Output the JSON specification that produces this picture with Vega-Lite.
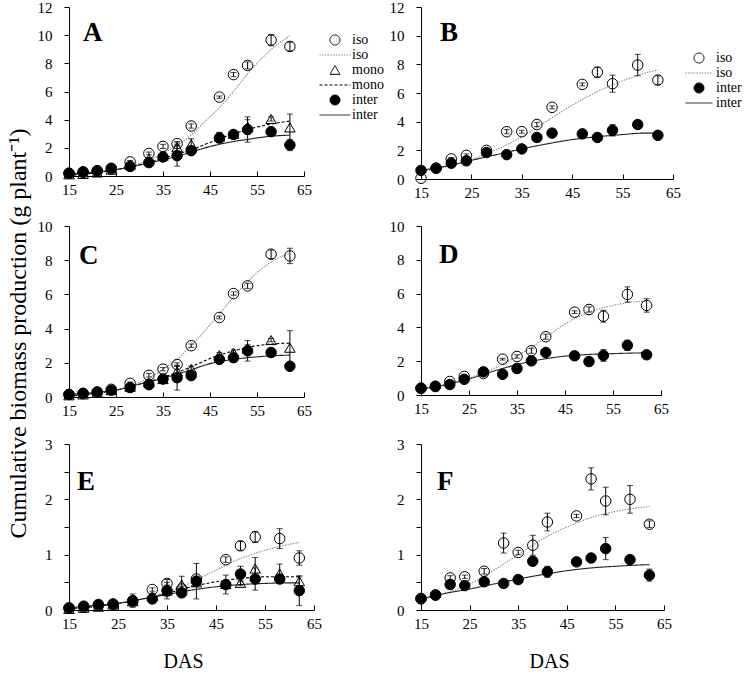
{
  "$schema": "https://vega.github.io/schema/vega-lite/v6.json",
  "background": "white",
  "padding": {"left": 5, "top": 0, "right": 60, "bottom": 0},
  "bounds": "flush",
  "columns": 2,
  "align": "each",
  "spacing": {"row": 47, "column": 107},
  "resolve": {
    "scale": {"shape": "independent", "fill": "independent", "stroke": "independent", "strokeDash": "independent"},
    "legend": {"shape": "independent", "fill": "independent", "stroke": "independent", "strokeDash": "independent"}
  },
  "config": {
    "view": {"stroke": null},
    "font": "Liberation Serif",
    "axis": {"labelFont": "Liberation Serif", "labelFontSize": 15, "labelColor": "black", "domainColor": "black", "tickColor": "black", "domainWidth": 1, "tickWidth": 1, "grid": false, "titleFont": "Liberation Serif", "titleFontWeight": "normal", "titleColor": "black", "labelFlush": false, "labelOverlap": false},
    "axisX": {"tickSize": -5, "labelPadding": 11},
    "axisY": {"tickSize": 5, "labelPadding": 12},
    "legend": {"labelFont": "Liberation Serif", "labelFontSize": 14, "labelColor": "black", "symbolSize": 100, "rowPadding": 1, "labelOffset": 10, "symbolStrokeWidth": 1, "symbolFillColor": "transparent"},
    "title": {"font": "Liberation Serif", "fontSize": 27, "fontWeight": "bold", "color": "black", "anchor": "start", "frame": "group", "offset": 0, "baseline": "alphabetic"}
  },
  "datasets": {
    "obs": [
      {"panel":"A","das":15,"series":"iso_obs","value":0.19,"se":0},{"panel":"A","das":18,"series":"iso_obs","value":0.25,"se":0},{"panel":"A","das":21,"series":"iso_obs","value":0.35,"se":0},{"panel":"A","das":24,"series":"iso_obs","value":0.5,"se":0},{"panel":"A","das":28,"series":"iso_obs","value":1.0,"se":0.1},{"panel":"A","das":32,"series":"iso_obs","value":1.6,"se":0.1},{"panel":"A","das":35,"series":"iso_obs","value":2.1,"se":0.15},{"panel":"A","das":38,"series":"iso_obs","value":2.3,"se":0.15},{"panel":"A","das":41,"series":"iso_obs","value":3.55,"se":0.15},{"panel":"A","das":47,"series":"iso_obs","value":5.6,"se":0.08},{"panel":"A","das":50,"series":"iso_obs","value":7.2,"se":0.15},{"panel":"A","das":53,"series":"iso_obs","value":7.85,"se":0.25},{"panel":"A","das":58,"series":"iso_obs","value":9.65,"se":0.4},{"panel":"A","das":62,"series":"iso_obs","value":9.2,"se":0.3},
      {"panel":"A","das":15,"series":"mono_obs","value":0.12,"se":0},{"panel":"A","das":18,"series":"mono_obs","value":0.15,"se":0},{"panel":"A","das":21,"series":"mono_obs","value":0.25,"se":0},{"panel":"A","das":24,"series":"mono_obs","value":0.45,"se":0},{"panel":"A","das":28,"series":"mono_obs","value":0.8,"se":0.1},{"panel":"A","das":32,"series":"mono_obs","value":1.2,"se":0.1},{"panel":"A","das":35,"series":"mono_obs","value":1.45,"se":0.1},{"panel":"A","das":38,"series":"mono_obs","value":2.05,"se":0.3},{"panel":"A","das":41,"series":"mono_obs","value":2.25,"se":0.4},{"panel":"A","das":47,"series":"mono_obs","value":2.8,"se":0.3},{"panel":"A","das":50,"series":"mono_obs","value":3.0,"se":0.25},{"panel":"A","das":53,"series":"mono_obs","value":3.5,"se":0.5},{"panel":"A","das":58,"series":"mono_obs","value":4.05,"se":0.15},{"panel":"A","das":62,"series":"mono_obs","value":3.45,"se":0.95},
      {"panel":"A","das":15,"series":"inter_obs","value":0.2,"se":0},{"panel":"A","das":18,"series":"inter_obs","value":0.3,"se":0.05},{"panel":"A","das":21,"series":"inter_obs","value":0.38,"se":0.05},{"panel":"A","das":24,"series":"inter_obs","value":0.55,"se":0.05},{"panel":"A","das":28,"series":"inter_obs","value":0.68,"se":0.1},{"panel":"A","das":32,"series":"inter_obs","value":0.95,"se":0.1},{"panel":"A","das":35,"series":"inter_obs","value":1.35,"se":0.1},{"panel":"A","das":38,"series":"inter_obs","value":1.45,"se":0.75},{"panel":"A","das":41,"series":"inter_obs","value":1.8,"se":0.1},{"panel":"A","das":47,"series":"inter_obs","value":2.7,"se":0.35},{"panel":"A","das":50,"series":"inter_obs","value":2.95,"se":0.2},{"panel":"A","das":53,"series":"inter_obs","value":3.3,"se":0.9},{"panel":"A","das":58,"series":"inter_obs","value":3.15,"se":0.1},{"panel":"A","das":62,"series":"inter_obs","value":2.2,"se":0.4},
      {"panel":"B","das":15,"series":"iso_obs","value":0.05,"se":0},{"panel":"B","das":18,"series":"iso_obs","value":0.75,"se":0},{"panel":"B","das":21,"series":"iso_obs","value":1.4,"se":0.1},{"panel":"B","das":24,"series":"iso_obs","value":1.65,"se":0.1},{"panel":"B","das":28,"series":"iso_obs","value":2.0,"se":0.1},{"panel":"B","das":32,"series":"iso_obs","value":3.3,"se":0.15},{"panel":"B","das":35,"series":"iso_obs","value":3.3,"se":0.1},{"panel":"B","das":38,"series":"iso_obs","value":3.8,"se":0.15},{"panel":"B","das":41,"series":"iso_obs","value":5.0,"se":0.1},{"panel":"B","das":47,"series":"iso_obs","value":6.6,"se":0.1},{"panel":"B","das":50,"series":"iso_obs","value":7.45,"se":0.35},{"panel":"B","das":53,"series":"iso_obs","value":6.65,"se":0.6},{"panel":"B","das":58,"series":"iso_obs","value":7.95,"se":0.75},{"panel":"B","das":62,"series":"iso_obs","value":6.9,"se":0.3},
      {"panel":"B","das":15,"series":"inter_obs","value":0.6,"se":0},{"panel":"B","das":18,"series":"inter_obs","value":0.76,"se":0},{"panel":"B","das":21,"series":"inter_obs","value":1.1,"se":0.1},{"panel":"B","das":24,"series":"inter_obs","value":1.27,"se":0.1},{"panel":"B","das":28,"series":"inter_obs","value":1.85,"se":0.1},{"panel":"B","das":32,"series":"inter_obs","value":1.7,"se":0.05},{"panel":"B","das":35,"series":"inter_obs","value":2.1,"se":0.05},{"panel":"B","das":38,"series":"inter_obs","value":2.9,"se":0.05},{"panel":"B","das":41,"series":"inter_obs","value":3.2,"se":0.05},{"panel":"B","das":47,"series":"inter_obs","value":3.15,"se":0.1},{"panel":"B","das":50,"series":"inter_obs","value":2.9,"se":0.1},{"panel":"B","das":53,"series":"inter_obs","value":3.4,"se":0.4},{"panel":"B","das":58,"series":"inter_obs","value":3.8,"se":0.2},{"panel":"B","das":62,"series":"inter_obs","value":3.05,"se":0.05},
      {"panel":"C","das":15,"series":"iso_obs","value":0.15,"se":0},{"panel":"C","das":18,"series":"iso_obs","value":0.2,"se":0},{"panel":"C","das":21,"series":"iso_obs","value":0.3,"se":0},{"panel":"C","das":24,"series":"iso_obs","value":0.45,"se":0},{"panel":"C","das":28,"series":"iso_obs","value":0.8,"se":0.08},{"panel":"C","das":32,"series":"iso_obs","value":1.27,"se":0.1},{"panel":"C","das":35,"series":"iso_obs","value":1.63,"se":0.1},{"panel":"C","das":38,"series":"iso_obs","value":1.9,"se":0.1},{"panel":"C","das":41,"series":"iso_obs","value":3.0,"se":0.1},{"panel":"C","das":47,"series":"iso_obs","value":4.65,"se":0.08},{"panel":"C","das":50,"series":"iso_obs","value":6.05,"se":0.1},{"panel":"C","das":53,"series":"iso_obs","value":6.5,"se":0.15},{"panel":"C","das":58,"series":"iso_obs","value":8.35,"se":0.25},{"panel":"C","das":62,"series":"iso_obs","value":8.25,"se":0.45},
      {"panel":"C","das":15,"series":"mono_obs","value":0.1,"se":0},{"panel":"C","das":18,"series":"mono_obs","value":0.15,"se":0},{"panel":"C","das":21,"series":"mono_obs","value":0.25,"se":0},{"panel":"C","das":24,"series":"mono_obs","value":0.4,"se":0},{"panel":"C","das":28,"series":"mono_obs","value":0.6,"se":0.05},{"panel":"C","das":32,"series":"mono_obs","value":0.85,"se":0.1},{"panel":"C","das":35,"series":"mono_obs","value":1.05,"se":0.1},{"panel":"C","das":38,"series":"mono_obs","value":1.5,"se":0.3},{"panel":"C","das":41,"series":"mono_obs","value":1.65,"se":0.15},{"panel":"C","das":47,"series":"mono_obs","value":2.45,"se":0.15},{"panel":"C","das":50,"series":"mono_obs","value":2.6,"se":0.15},{"panel":"C","das":53,"series":"mono_obs","value":2.85,"se":0.2},{"panel":"C","das":58,"series":"mono_obs","value":3.33,"se":0.1},{"panel":"C","das":62,"series":"mono_obs","value":2.88,"se":1.0},
      {"panel":"C","das":15,"series":"inter_obs","value":0.15,"se":0},{"panel":"C","das":18,"series":"inter_obs","value":0.22,"se":0},{"panel":"C","das":21,"series":"inter_obs","value":0.27,"se":0},{"panel":"C","das":24,"series":"inter_obs","value":0.4,"se":0},{"panel":"C","das":28,"series":"inter_obs","value":0.55,"se":0.05},{"panel":"C","das":32,"series":"inter_obs","value":0.72,"se":0.05},{"panel":"C","das":35,"series":"inter_obs","value":1.05,"se":0.05},{"panel":"C","das":38,"series":"inter_obs","value":1.13,"se":0.73},{"panel":"C","das":41,"series":"inter_obs","value":1.25,"se":0.1},{"panel":"C","das":47,"series":"inter_obs","value":2.2,"se":0.2},{"panel":"C","das":50,"series":"inter_obs","value":2.3,"se":0.25},{"panel":"C","das":53,"series":"inter_obs","value":2.7,"se":0.6},{"panel":"C","das":58,"series":"inter_obs","value":2.6,"se":0.05},{"panel":"C","das":62,"series":"inter_obs","value":1.8,"se":0.05},
      {"panel":"D","das":15,"series":"iso_obs","value":0.4,"se":0},{"panel":"D","das":18,"series":"iso_obs","value":0.5,"se":0},{"panel":"D","das":21,"series":"iso_obs","value":0.8,"se":0},{"panel":"D","das":24,"series":"iso_obs","value":1.1,"se":0},{"panel":"D","das":28,"series":"iso_obs","value":1.27,"se":0.05},{"panel":"D","das":32,"series":"iso_obs","value":2.12,"se":0.05},{"panel":"D","das":35,"series":"iso_obs","value":2.28,"se":0.1},{"panel":"D","das":38,"series":"iso_obs","value":2.62,"se":0.15},{"panel":"D","das":41,"series":"iso_obs","value":3.45,"se":0.15},{"panel":"D","das":47,"series":"iso_obs","value":4.9,"se":0.08},{"panel":"D","das":50,"series":"iso_obs","value":5.06,"se":0.15},{"panel":"D","das":53,"series":"iso_obs","value":4.66,"se":0.35},{"panel":"D","das":58,"series":"iso_obs","value":5.95,"se":0.45},{"panel":"D","das":62,"series":"iso_obs","value":5.3,"se":0.4},
      {"panel":"D","das":15,"series":"inter_obs","value":0.4,"se":0},{"panel":"D","das":18,"series":"inter_obs","value":0.52,"se":0},{"panel":"D","das":21,"series":"inter_obs","value":0.62,"se":0},{"panel":"D","das":24,"series":"inter_obs","value":0.93,"se":0.05},{"panel":"D","das":28,"series":"inter_obs","value":1.37,"se":0.05},{"panel":"D","das":32,"series":"inter_obs","value":1.23,"se":0.05},{"panel":"D","das":35,"series":"inter_obs","value":1.57,"se":0.05},{"panel":"D","das":38,"series":"inter_obs","value":2.02,"se":0.05},{"panel":"D","das":41,"series":"inter_obs","value":2.52,"se":0.05},{"panel":"D","das":47,"series":"inter_obs","value":2.32,"se":0.05},{"panel":"D","das":50,"series":"inter_obs","value":1.98,"se":0.05},{"panel":"D","das":53,"series":"inter_obs","value":2.34,"se":0.35},{"panel":"D","das":58,"series":"inter_obs","value":2.94,"se":0.3},{"panel":"D","das":62,"series":"inter_obs","value":2.38,"se":0.05},
      {"panel":"E","das":15,"series":"iso_obs","value":0.03,"se":0},{"panel":"E","das":18,"series":"iso_obs","value":0.05,"se":0},{"panel":"E","das":21,"series":"iso_obs","value":0.08,"se":0},{"panel":"E","das":24,"series":"iso_obs","value":0.1,"se":0},{"panel":"E","das":28,"series":"iso_obs","value":0.15,"se":0},{"panel":"E","das":32,"series":"iso_obs","value":0.37,"se":0.03},{"panel":"E","das":35,"series":"iso_obs","value":0.48,"se":0.07},{"panel":"E","das":38,"series":"iso_obs","value":0.38,"se":0.05},{"panel":"E","das":41,"series":"iso_obs","value":0.56,"se":0.05},{"panel":"E","das":47,"series":"iso_obs","value":0.91,"se":0.05},{"panel":"E","das":50,"series":"iso_obs","value":1.16,"se":0.08},{"panel":"E","das":53,"series":"iso_obs","value":1.32,"se":0.1},{"panel":"E","das":58,"series":"iso_obs","value":1.29,"se":0.18},{"panel":"E","das":62,"series":"iso_obs","value":0.94,"se":0.13},
      {"panel":"E","das":15,"series":"mono_obs","value":0.02,"se":0},{"panel":"E","das":18,"series":"mono_obs","value":0.04,"se":0},{"panel":"E","das":21,"series":"mono_obs","value":0.06,"se":0},{"panel":"E","das":24,"series":"mono_obs","value":0.1,"se":0},{"panel":"E","das":28,"series":"mono_obs","value":0.16,"se":0},{"panel":"E","das":32,"series":"mono_obs","value":0.25,"se":0.05},{"panel":"E","das":35,"series":"mono_obs","value":0.35,"se":0.1},{"panel":"E","das":38,"series":"mono_obs","value":0.46,"se":0.15},{"panel":"E","das":41,"series":"mono_obs","value":0.5,"se":0.05},{"panel":"E","das":47,"series":"mono_obs","value":0.47,"se":0.05},{"panel":"E","das":50,"series":"mono_obs","value":0.49,"se":0.05},{"panel":"E","das":53,"series":"mono_obs","value":0.75,"se":0.2},{"panel":"E","das":58,"series":"mono_obs","value":0.66,"se":0.17},{"panel":"E","das":62,"series":"mono_obs","value":0.52,"se":0.08},
      {"panel":"E","das":15,"series":"inter_obs","value":0.04,"se":0},{"panel":"E","das":18,"series":"inter_obs","value":0.07,"se":0.02},{"panel":"E","das":21,"series":"inter_obs","value":0.1,"se":0.03},{"panel":"E","das":24,"series":"inter_obs","value":0.11,"se":0.03},{"panel":"E","das":28,"series":"inter_obs","value":0.17,"se":0.12},{"panel":"E","das":32,"series":"inter_obs","value":0.2,"se":0.05},{"panel":"E","das":35,"series":"inter_obs","value":0.35,"se":0.15},{"panel":"E","das":38,"series":"inter_obs","value":0.31,"se":0.05},{"panel":"E","das":41,"series":"inter_obs","value":0.52,"se":0.32},{"panel":"E","das":47,"series":"inter_obs","value":0.46,"se":0.17},{"panel":"E","das":50,"series":"inter_obs","value":0.65,"se":0.14},{"panel":"E","das":53,"series":"inter_obs","value":0.56,"se":0.2},{"panel":"E","das":58,"series":"inter_obs","value":0.56,"se":0.05},{"panel":"E","das":62,"series":"inter_obs","value":0.35,"se":0.27},
      {"panel":"F","das":15,"series":"iso_obs","value":0.2,"se":0},{"panel":"F","das":18,"series":"iso_obs","value":0.27,"se":0},{"panel":"F","das":21,"series":"iso_obs","value":0.58,"se":0.04},{"panel":"F","das":24,"series":"iso_obs","value":0.6,"se":0.03},{"panel":"F","das":28,"series":"iso_obs","value":0.7,"se":0.05},{"panel":"F","das":32,"series":"iso_obs","value":1.21,"se":0.18},{"panel":"F","das":35,"series":"iso_obs","value":1.04,"se":0.04},{"panel":"F","das":38,"series":"iso_obs","value":1.17,"se":0.18},{"panel":"F","das":41,"series":"iso_obs","value":1.59,"se":0.16},{"panel":"F","das":47,"series":"iso_obs","value":1.7,"se":0.03},{"panel":"F","das":50,"series":"iso_obs","value":2.37,"se":0.2},{"panel":"F","das":53,"series":"iso_obs","value":1.97,"se":0.25},{"panel":"F","das":58,"series":"iso_obs","value":2.0,"se":0.25},{"panel":"F","das":62,"series":"iso_obs","value":1.55,"se":0.06},
      {"panel":"F","das":15,"series":"inter_obs","value":0.21,"se":0},{"panel":"F","das":18,"series":"inter_obs","value":0.27,"se":0},{"panel":"F","das":21,"series":"inter_obs","value":0.46,"se":0.07},{"panel":"F","das":24,"series":"inter_obs","value":0.44,"se":0},{"panel":"F","das":28,"series":"inter_obs","value":0.51,"se":0},{"panel":"F","das":32,"series":"inter_obs","value":0.48,"se":0},{"panel":"F","das":35,"series":"inter_obs","value":0.55,"se":0.06},{"panel":"F","das":38,"series":"inter_obs","value":0.88,"se":0},{"panel":"F","das":41,"series":"inter_obs","value":0.69,"se":0.1},{"panel":"F","das":47,"series":"inter_obs","value":0.87,"se":0},{"panel":"F","das":50,"series":"inter_obs","value":0.94,"se":0},{"panel":"F","das":53,"series":"inter_obs","value":1.11,"se":0.2},{"panel":"F","das":58,"series":"inter_obs","value":0.91,"se":0},{"panel":"F","das":62,"series":"inter_obs","value":0.63,"se":0.11}
    ],
    "fit": [
      {"panel":"A","das":15,"series":"iso_fit","value":0.1},{"panel":"A","das":20,"series":"iso_fit","value":0.2},{"panel":"A","das":25,"series":"iso_fit","value":0.45},{"panel":"A","das":30,"series":"iso_fit","value":0.9},{"panel":"A","das":35,"series":"iso_fit","value":1.6},{"panel":"A","das":38,"series":"iso_fit","value":2.2},{"panel":"A","das":41,"series":"iso_fit","value":2.9},{"panel":"A","das":44,"series":"iso_fit","value":3.9},{"panel":"A","das":47,"series":"iso_fit","value":4.85},{"panel":"A","das":50,"series":"iso_fit","value":6.0},{"panel":"A","das":53,"series":"iso_fit","value":7.25},{"panel":"A","das":56,"series":"iso_fit","value":8.35},{"panel":"A","das":59,"series":"iso_fit","value":9.25},{"panel":"A","das":62,"series":"iso_fit","value":9.95},
      {"panel":"A","das":15,"series":"mono_fit","value":0.05},{"panel":"A","das":20,"series":"mono_fit","value":0.2},{"panel":"A","das":25,"series":"mono_fit","value":0.45},{"panel":"A","das":30,"series":"mono_fit","value":0.8},{"panel":"A","das":35,"series":"mono_fit","value":1.25},{"panel":"A","das":38,"series":"mono_fit","value":1.55},{"panel":"A","das":41,"series":"mono_fit","value":1.85},{"panel":"A","das":44,"series":"mono_fit","value":2.25},{"panel":"A","das":47,"series":"mono_fit","value":2.65},{"panel":"A","das":50,"series":"mono_fit","value":3.0},{"panel":"A","das":53,"series":"mono_fit","value":3.3},{"panel":"A","das":56,"series":"mono_fit","value":3.55},{"panel":"A","das":59,"series":"mono_fit","value":3.75},{"panel":"A","das":62,"series":"mono_fit","value":3.9},
      {"panel":"A","das":15,"series":"inter_fit","value":0.15},{"panel":"A","das":20,"series":"inter_fit","value":0.28},{"panel":"A","das":25,"series":"inter_fit","value":0.45},{"panel":"A","das":30,"series":"inter_fit","value":0.78},{"panel":"A","das":35,"series":"inter_fit","value":1.15},{"panel":"A","das":38,"series":"inter_fit","value":1.4},{"panel":"A","das":41,"series":"inter_fit","value":1.7},{"panel":"A","das":44,"series":"inter_fit","value":2.0},{"panel":"A","das":47,"series":"inter_fit","value":2.25},{"panel":"A","das":50,"series":"inter_fit","value":2.45},{"panel":"A","das":53,"series":"inter_fit","value":2.6},{"panel":"A","das":56,"series":"inter_fit","value":2.75},{"panel":"A","das":59,"series":"inter_fit","value":2.85},{"panel":"A","das":62,"series":"inter_fit","value":2.9},
      {"panel":"B","das":15,"series":"iso_fit","value":0.5},{"panel":"B","das":20,"series":"iso_fit","value":0.85},{"panel":"B","das":25,"series":"iso_fit","value":1.35},{"panel":"B","das":30,"series":"iso_fit","value":2.05},{"panel":"B","das":35,"series":"iso_fit","value":2.95},{"panel":"B","das":40,"series":"iso_fit","value":4.05},{"panel":"B","das":45,"series":"iso_fit","value":5.15},{"panel":"B","das":50,"series":"iso_fit","value":6.1},{"panel":"B","das":55,"series":"iso_fit","value":6.85},{"panel":"B","das":59,"series":"iso_fit","value":7.35},{"panel":"B","das":62,"series":"iso_fit","value":7.6},
      {"panel":"B","das":15,"series":"inter_fit","value":0.6},{"panel":"B","das":20,"series":"inter_fit","value":0.9},{"panel":"B","das":25,"series":"inter_fit","value":1.3},{"panel":"B","das":30,"series":"inter_fit","value":1.7},{"panel":"B","das":35,"series":"inter_fit","value":2.1},{"panel":"B","das":40,"series":"inter_fit","value":2.45},{"panel":"B","das":45,"series":"inter_fit","value":2.75},{"panel":"B","das":50,"series":"inter_fit","value":2.95},{"panel":"B","das":55,"series":"inter_fit","value":3.1},{"panel":"B","das":59,"series":"inter_fit","value":3.2},{"panel":"B","das":62,"series":"inter_fit","value":3.2},
      {"panel":"C","das":15,"series":"iso_fit","value":0.1},{"panel":"C","das":20,"series":"iso_fit","value":0.2},{"panel":"C","das":25,"series":"iso_fit","value":0.4},{"panel":"C","das":30,"series":"iso_fit","value":0.85},{"panel":"C","das":35,"series":"iso_fit","value":1.6},{"panel":"C","das":38,"series":"iso_fit","value":2.2},{"panel":"C","das":41,"series":"iso_fit","value":3.0},{"panel":"C","das":44,"series":"iso_fit","value":3.9},{"panel":"C","das":47,"series":"iso_fit","value":4.85},{"panel":"C","das":50,"series":"iso_fit","value":5.85},{"panel":"C","das":53,"series":"iso_fit","value":6.75},{"panel":"C","das":56,"series":"iso_fit","value":7.5},{"panel":"C","das":59,"series":"iso_fit","value":8.05},{"panel":"C","das":62,"series":"iso_fit","value":8.4},
      {"panel":"C","das":15,"series":"mono_fit","value":0.05},{"panel":"C","das":20,"series":"mono_fit","value":0.2},{"panel":"C","das":25,"series":"mono_fit","value":0.4},{"panel":"C","das":30,"series":"mono_fit","value":0.75},{"panel":"C","das":35,"series":"mono_fit","value":1.15},{"panel":"C","das":40,"series":"mono_fit","value":1.65},{"panel":"C","das":45,"series":"mono_fit","value":2.25},{"panel":"C","das":50,"series":"mono_fit","value":2.7},{"panel":"C","das":55,"series":"mono_fit","value":3.0},{"panel":"C","das":59,"series":"mono_fit","value":3.12},{"panel":"C","das":62,"series":"mono_fit","value":3.15},
      {"panel":"C","das":15,"series":"inter_fit","value":0.15},{"panel":"C","das":20,"series":"inter_fit","value":0.25},{"panel":"C","das":25,"series":"inter_fit","value":0.4},{"panel":"C","das":30,"series":"inter_fit","value":0.75},{"panel":"C","das":35,"series":"inter_fit","value":1.1},{"panel":"C","das":40,"series":"inter_fit","value":1.5},{"panel":"C","das":45,"series":"inter_fit","value":1.95},{"panel":"C","das":50,"series":"inter_fit","value":2.2},{"panel":"C","das":55,"series":"inter_fit","value":2.35},{"panel":"C","das":59,"series":"inter_fit","value":2.42},{"panel":"C","das":62,"series":"inter_fit","value":2.45},
      {"panel":"D","das":15,"series":"iso_fit","value":0.35},{"panel":"D","das":20,"series":"iso_fit","value":0.6},{"panel":"D","das":25,"series":"iso_fit","value":1.0},{"panel":"D","das":30,"series":"iso_fit","value":1.55},{"panel":"D","das":35,"series":"iso_fit","value":2.3},{"panel":"D","das":40,"series":"iso_fit","value":3.2},{"panel":"D","das":45,"series":"iso_fit","value":4.2},{"panel":"D","das":50,"series":"iso_fit","value":4.9},{"panel":"D","das":55,"series":"iso_fit","value":5.3},{"panel":"D","das":59,"series":"iso_fit","value":5.5},{"panel":"D","das":62,"series":"iso_fit","value":5.55},
      {"panel":"D","das":15,"series":"inter_fit","value":0.35},{"panel":"D","das":20,"series":"inter_fit","value":0.6},{"panel":"D","das":25,"series":"inter_fit","value":0.95},{"panel":"D","das":30,"series":"inter_fit","value":1.4},{"panel":"D","das":35,"series":"inter_fit","value":1.8},{"panel":"D","das":40,"series":"inter_fit","value":2.1},{"panel":"D","das":45,"series":"inter_fit","value":2.3},{"panel":"D","das":50,"series":"inter_fit","value":2.4},{"panel":"D","das":55,"series":"inter_fit","value":2.45},{"panel":"D","das":59,"series":"inter_fit","value":2.48},{"panel":"D","das":62,"series":"inter_fit","value":2.5},
      {"panel":"E","das":15,"series":"iso_fit","value":0.03},{"panel":"E","das":20,"series":"iso_fit","value":0.06},{"panel":"E","das":25,"series":"iso_fit","value":0.12},{"panel":"E","das":30,"series":"iso_fit","value":0.2},{"panel":"E","das":35,"series":"iso_fit","value":0.32},{"panel":"E","das":40,"series":"iso_fit","value":0.5},{"panel":"E","das":45,"series":"iso_fit","value":0.72},{"panel":"E","das":50,"series":"iso_fit","value":0.93},{"panel":"E","das":55,"series":"iso_fit","value":1.08},{"panel":"E","das":59,"series":"iso_fit","value":1.17},{"panel":"E","das":62,"series":"iso_fit","value":1.22},
      {"panel":"E","das":15,"series":"mono_fit","value":0.02},{"panel":"E","das":20,"series":"mono_fit","value":0.06},{"panel":"E","das":25,"series":"mono_fit","value":0.12},{"panel":"E","das":30,"series":"mono_fit","value":0.2},{"panel":"E","das":35,"series":"mono_fit","value":0.3},{"panel":"E","das":40,"series":"mono_fit","value":0.42},{"panel":"E","das":45,"series":"mono_fit","value":0.51},{"panel":"E","das":50,"series":"mono_fit","value":0.57},{"panel":"E","das":55,"series":"mono_fit","value":0.6},{"panel":"E","das":59,"series":"mono_fit","value":0.6},{"panel":"E","das":62,"series":"mono_fit","value":0.6},
      {"panel":"E","das":15,"series":"inter_fit","value":0.04},{"panel":"E","das":20,"series":"inter_fit","value":0.08},{"panel":"E","das":25,"series":"inter_fit","value":0.12},{"panel":"E","das":30,"series":"inter_fit","value":0.2},{"panel":"E","das":35,"series":"inter_fit","value":0.28},{"panel":"E","das":40,"series":"inter_fit","value":0.36},{"panel":"E","das":45,"series":"inter_fit","value":0.42},{"panel":"E","das":50,"series":"inter_fit","value":0.46},{"panel":"E","das":55,"series":"inter_fit","value":0.48},{"panel":"E","das":59,"series":"inter_fit","value":0.49},{"panel":"E","das":62,"series":"inter_fit","value":0.49},
      {"panel":"F","das":15,"series":"iso_fit","value":0.2},{"panel":"F","das":20,"series":"iso_fit","value":0.3},{"panel":"F","das":25,"series":"iso_fit","value":0.47},{"panel":"F","das":30,"series":"iso_fit","value":0.72},{"panel":"F","das":35,"series":"iso_fit","value":1.0},{"panel":"F","das":40,"series":"iso_fit","value":1.28},{"panel":"F","das":45,"series":"iso_fit","value":1.5},{"panel":"F","das":50,"series":"iso_fit","value":1.67},{"panel":"F","das":55,"series":"iso_fit","value":1.78},{"panel":"F","das":59,"series":"iso_fit","value":1.84},{"panel":"F","das":62,"series":"iso_fit","value":1.87},
      {"panel":"F","das":15,"series":"inter_fit","value":0.2},{"panel":"F","das":20,"series":"inter_fit","value":0.3},{"panel":"F","das":25,"series":"inter_fit","value":0.38},{"panel":"F","das":30,"series":"inter_fit","value":0.47},{"panel":"F","das":35,"series":"inter_fit","value":0.56},{"panel":"F","das":40,"series":"inter_fit","value":0.64},{"panel":"F","das":45,"series":"inter_fit","value":0.71},{"panel":"F","das":50,"series":"inter_fit","value":0.76},{"panel":"F","das":55,"series":"inter_fit","value":0.79},{"panel":"F","das":59,"series":"inter_fit","value":0.81},{"panel":"F","das":62,"series":"inter_fit","value":0.82}
    ]
  },
  "concat": [
    {
      "width": 235, "height": 169,
      "title": {"text": "A", "dx": 14, "dy": 51},
      "encoding": {
        "x": {"field": "das", "type": "quantitative", "scale": {"domain": [15, 65], "nice": false, "zero": false}, "axis": {"values": [15, 25, 35, 45, 55, 65], "title": null}},
        "y": {"field": "value", "type": "quantitative", "scale": {"domain": [0, 12], "nice": false}, "axis": {"values": [0, 2, 4, 6, 8, 10, 12], "title": null}}
      },
      "layer": [
        {"data": {"name": "fit"}, "transform": [{"filter": "datum.panel === 'A'"}], "mark": {"type": "line", "interpolate": "monotone", "strokeWidth": 1.1},
         "encoding": {
           "stroke": {"field": "series", "type": "nominal", "scale": {"domain": ["iso_obs","iso_fit","mono_obs","mono_fit","inter_obs","inter_fit"], "range": ["black","#8c8c8c","black","black","black","#222222"]}, "legend": {"orient": "none", "legendX": 259, "legendY": 26, "title": null, "labelExpr": "split(datum.label, '_')[0]"}},
           "strokeDash": {"field": "series", "type": "nominal", "scale": {"domain": ["iso_obs","iso_fit","mono_obs","mono_fit","inter_obs","inter_fit"], "range": [[1,0],[1.5,1.2],[1,0],[3,2],[1,0],[1,0]]}, "legend": {"orient": "none", "legendX": 259, "legendY": 26, "title": null, "labelExpr": "split(datum.label, '_')[0]"}}
         }},
        {"data": {"name": "obs"}, "transform": [{"filter": "datum.panel === 'A' && datum.se > 0"}], "mark": {"type": "errorbar", "color": "black", "thickness": 1, "ticks": {"size": 6}},
         "encoding": {"yError": {"field": "se"}}},
        {"data": {"name": "obs"}, "transform": [{"filter": "datum.panel === 'A'"}], "mark": {"type": "point", "filled": true, "size": 110, "strokeWidth": 1, "opacity": 1},
         "encoding": {
           "shape": {"field": "series", "type": "nominal", "scale": {"domain": ["iso_obs","iso_fit","mono_obs","mono_fit","inter_obs","inter_fit"], "range": ["circle","M-3.1,0L3.1,0","triangle-up","M-3.1,0L3.1,0","circle","M-3.1,0L3.1,0"]}, "legend": {"orient": "none", "legendX": 259, "legendY": 26, "title": null, "labelExpr": "split(datum.label, '_')[0]"}},
           "fill": {"field": "series", "type": "nominal", "scale": {"domain": ["iso_obs","iso_fit","mono_obs","mono_fit","inter_obs","inter_fit"], "range": ["transparent","transparent","transparent","transparent","black","transparent"]}, "legend": {"orient": "none", "legendX": 259, "legendY": 26, "title": null, "labelExpr": "split(datum.label, '_')[0]"}},
           "stroke": {"field": "series", "type": "nominal", "scale": {"domain": ["iso_obs","iso_fit","mono_obs","mono_fit","inter_obs","inter_fit"], "range": ["black","#8c8c8c","black","black","black","#222222"]}, "legend": {"orient": "none", "legendX": 259, "legendY": 26, "title": null, "labelExpr": "split(datum.label, '_')[0]"}}
         }}
      ]
    },
    {
      "width": 252, "height": 172,
      "title": {"text": "B", "dx": 19, "dy": 51},
      "encoding": {
        "x": {"field": "das", "type": "quantitative", "scale": {"domain": [15, 65], "nice": false, "zero": false}, "axis": {"values": [15, 25, 35, 45, 55, 65], "title": null}},
        "y": {"field": "value", "type": "quantitative", "scale": {"domain": [0, 12], "nice": false}, "axis": {"values": [0, 2, 4, 6, 8, 10, 12], "title": null}}
      },
      "layer": [
        {"data": {"name": "fit"}, "transform": [{"filter": "datum.panel === 'B'"}], "mark": {"type": "line", "interpolate": "monotone", "strokeWidth": 1.1},
         "encoding": {
           "stroke": {"field": "series", "type": "nominal", "scale": {"domain": ["iso_obs","iso_fit","inter_obs","inter_fit"], "range": ["black","#8c8c8c","black","#222222"]}, "legend": {"orient": "none", "legendX": 271, "legendY": 44, "title": null, "labelExpr": "split(datum.label, '_')[0]"}},
           "strokeDash": {"field": "series", "type": "nominal", "scale": {"domain": ["iso_obs","iso_fit","inter_obs","inter_fit"], "range": [[1,0],[1.5,1.2],[1,0],[1,0]]}, "legend": {"orient": "none", "legendX": 271, "legendY": 44, "title": null, "labelExpr": "split(datum.label, '_')[0]"}}
         }},
        {"data": {"name": "obs"}, "transform": [{"filter": "datum.panel === 'B' && datum.se > 0"}], "mark": {"type": "errorbar", "color": "black", "thickness": 1, "ticks": {"size": 6}},
         "encoding": {"yError": {"field": "se"}}},
        {"data": {"name": "obs"}, "transform": [{"filter": "datum.panel === 'B'"}], "mark": {"type": "point", "filled": true, "size": 110, "strokeWidth": 1, "opacity": 1},
         "encoding": {
           "shape": {"field": "series", "type": "nominal", "scale": {"domain": ["iso_obs","iso_fit","inter_obs","inter_fit"], "range": ["circle","M-2.7,0L2.7,0","circle","M-2.7,0L2.7,0"]}, "legend": {"orient": "none", "legendX": 271, "legendY": 44, "title": null, "labelExpr": "split(datum.label, '_')[0]"}},
           "fill": {"field": "series", "type": "nominal", "scale": {"domain": ["iso_obs","iso_fit","inter_obs","inter_fit"], "range": ["transparent","transparent","black","transparent"]}, "legend": {"orient": "none", "legendX": 271, "legendY": 44, "title": null, "labelExpr": "split(datum.label, '_')[0]"}},
           "stroke": {"field": "series", "type": "nominal", "scale": {"domain": ["iso_obs","iso_fit","inter_obs","inter_fit"], "range": ["black","#8c8c8c","black","#222222"]}, "legend": {"orient": "none", "legendX": 271, "legendY": 44, "title": null, "labelExpr": "split(datum.label, '_')[0]"}}
         }}
      ]
    },
    {
      "width": 235, "height": 171,
      "title": {"text": "C", "dx": 10, "dy": 146},
      "encoding": {
        "x": {"field": "das", "type": "quantitative", "scale": {"domain": [15, 65], "nice": false, "zero": false}, "axis": {"values": [15, 25, 35, 45, 55, 65], "title": null}},
        "y": {"field": "value", "type": "quantitative", "scale": {"domain": [0, 10], "nice": false}, "axis": {"values": [0, 2, 4, 6, 8, 10], "title": "Cumulative biomass production (g plant⁻¹)", "titleFontSize": 24, "titlePadding": 7, "titleY": 107}}
      },
      "layer": [
        {"data": {"name": "fit"}, "transform": [{"filter": "datum.panel === 'C'"}], "mark": {"type": "line", "interpolate": "monotone", "strokeWidth": 1.1},
         "encoding": {
           "stroke": {"field": "series", "type": "nominal", "scale": {"domain": ["iso_fit","mono_fit","inter_fit"], "range": ["#8c8c8c","black","#222222"]}, "legend": null},
           "strokeDash": {"field": "series", "type": "nominal", "scale": {"domain": ["iso_fit","mono_fit","inter_fit"], "range": [[1.5,1.2],[3,2],[1,0]]}, "legend": null}
         }},
        {"data": {"name": "obs"}, "transform": [{"filter": "datum.panel === 'C' && datum.se > 0"}], "mark": {"type": "errorbar", "color": "black", "thickness": 1, "ticks": {"size": 6}},
         "encoding": {"yError": {"field": "se"}}},
        {"data": {"name": "obs"}, "transform": [{"filter": "datum.panel === 'C'"}], "mark": {"type": "point", "filled": true, "size": 110, "strokeWidth": 1, "opacity": 1, "stroke": "black"},
         "encoding": {
           "shape": {"field": "series", "type": "nominal", "scale": {"domain": ["iso_obs","mono_obs","inter_obs"], "range": ["circle","triangle-up","circle"]}, "legend": null},
           "fill": {"field": "series", "type": "nominal", "scale": {"domain": ["iso_obs","mono_obs","inter_obs"], "range": ["transparent","transparent","black"]}, "legend": null}
         }}
      ]
    },
    {
      "width": 240, "height": 169,
      "title": {"text": "D", "dx": 18, "dy": 54},
      "encoding": {
        "x": {"field": "das", "type": "quantitative", "scale": {"domain": [15, 65], "nice": false, "zero": false}, "axis": {"values": [15, 25, 35, 45, 55, 65], "title": null}},
        "y": {"field": "value", "type": "quantitative", "scale": {"domain": [0, 10], "nice": false}, "axis": {"values": [0, 2, 4, 6, 8, 10], "title": null}}
      },
      "layer": [
        {"data": {"name": "fit"}, "transform": [{"filter": "datum.panel === 'D'"}], "mark": {"type": "line", "interpolate": "monotone", "strokeWidth": 1.1},
         "encoding": {
           "stroke": {"field": "series", "type": "nominal", "scale": {"domain": ["iso_fit","inter_fit"], "range": ["#8c8c8c","#222222"]}, "legend": null},
           "strokeDash": {"field": "series", "type": "nominal", "scale": {"domain": ["iso_fit","inter_fit"], "range": [[1.5,1.2],[1,0]]}, "legend": null}
         }},
        {"data": {"name": "obs"}, "transform": [{"filter": "datum.panel === 'D' && datum.se > 0"}], "mark": {"type": "errorbar", "color": "black", "thickness": 1, "ticks": {"size": 6}},
         "encoding": {"yError": {"field": "se"}}},
        {"data": {"name": "obs"}, "transform": [{"filter": "datum.panel === 'D'"}], "mark": {"type": "point", "filled": true, "size": 110, "strokeWidth": 1, "opacity": 1, "stroke": "black"},
         "encoding": {
           "shape": {"field": "series", "type": "nominal", "scale": {"domain": ["iso_obs","inter_obs"], "range": ["circle","circle"]}, "legend": null},
           "fill": {"field": "series", "type": "nominal", "scale": {"domain": ["iso_obs","inter_obs"], "range": ["transparent","black"]}, "legend": null}
         }}
      ]
    },
    {
      "width": 245, "height": 166,
      "title": {"text": "E", "dx": 8, "dy": 63},
      "encoding": {
        "x": {"field": "das", "type": "quantitative", "scale": {"domain": [15, 65], "nice": false, "zero": false}, "axis": {"values": [15, 25, 35, 45, 55, 65], "title": "DAS", "titleFontSize": 20, "titlePadding": 20, "titleX": 114}},
        "y": {"field": "value", "type": "quantitative", "scale": {"domain": [0, 3], "nice": false}, "axis": {"values": [0, 0.5, 1, 1.5, 2, 2.5, 3], "labelExpr": "datum.value % 1 ? '' : format(datum.value, 'd')", "title": null}}
      },
      "layer": [
        {"data": {"name": "fit"}, "transform": [{"filter": "datum.panel === 'E'"}], "mark": {"type": "line", "interpolate": "monotone", "strokeWidth": 1.1},
         "encoding": {
           "stroke": {"field": "series", "type": "nominal", "scale": {"domain": ["iso_fit","mono_fit","inter_fit"], "range": ["#8c8c8c","black","#222222"]}, "legend": null},
           "strokeDash": {"field": "series", "type": "nominal", "scale": {"domain": ["iso_fit","mono_fit","inter_fit"], "range": [[1.5,1.2],[3,2],[1,0]]}, "legend": null}
         }},
        {"data": {"name": "obs"}, "transform": [{"filter": "datum.panel === 'E' && datum.se > 0"}], "mark": {"type": "errorbar", "color": "black", "thickness": 1, "ticks": {"size": 6}},
         "encoding": {"yError": {"field": "se"}}},
        {"data": {"name": "obs"}, "transform": [{"filter": "datum.panel === 'E'"}], "mark": {"type": "point", "filled": true, "size": 110, "strokeWidth": 1, "opacity": 1, "stroke": "black"},
         "encoding": {
           "shape": {"field": "series", "type": "nominal", "scale": {"domain": ["iso_obs","mono_obs","inter_obs"], "range": ["circle","triangle-up","circle"]}, "legend": null},
           "fill": {"field": "series", "type": "nominal", "scale": {"domain": ["iso_obs","mono_obs","inter_obs"], "range": ["transparent","transparent","black"]}, "legend": null}
         }}
      ]
    },
    {
      "width": 243, "height": 166,
      "title": {"text": "F", "dx": 16, "dy": 63},
      "encoding": {
        "x": {"field": "das", "type": "quantitative", "scale": {"domain": [15, 65], "nice": false, "zero": false}, "axis": {"values": [15, 25, 35, 45, 55, 65], "title": "DAS", "titleFontSize": 20, "titlePadding": 20, "titleX": 128}},
        "y": {"field": "value", "type": "quantitative", "scale": {"domain": [0, 3], "nice": false}, "axis": {"values": [0, 0.5, 1, 1.5, 2, 2.5, 3], "labelExpr": "datum.value % 1 ? '' : format(datum.value, 'd')", "title": null}}
      },
      "layer": [
        {"data": {"name": "fit"}, "transform": [{"filter": "datum.panel === 'F'"}], "mark": {"type": "line", "interpolate": "monotone", "strokeWidth": 1.1},
         "encoding": {
           "stroke": {"field": "series", "type": "nominal", "scale": {"domain": ["iso_fit","inter_fit"], "range": ["#8c8c8c","#222222"]}, "legend": null},
           "strokeDash": {"field": "series", "type": "nominal", "scale": {"domain": ["iso_fit","inter_fit"], "range": [[1.5,1.2],[1,0]]}, "legend": null}
         }},
        {"data": {"name": "obs"}, "transform": [{"filter": "datum.panel === 'F' && datum.se > 0"}], "mark": {"type": "errorbar", "color": "black", "thickness": 1, "ticks": {"size": 6}},
         "encoding": {"yError": {"field": "se"}}},
        {"data": {"name": "obs"}, "transform": [{"filter": "datum.panel === 'F'"}], "mark": {"type": "point", "filled": true, "size": 110, "strokeWidth": 1, "opacity": 1, "stroke": "black"},
         "encoding": {
           "shape": {"field": "series", "type": "nominal", "scale": {"domain": ["iso_obs","inter_obs"], "range": ["circle","circle"]}, "legend": null},
           "fill": {"field": "series", "type": "nominal", "scale": {"domain": ["iso_obs","inter_obs"], "range": ["transparent","black"]}, "legend": null}
         }}
      ]
    }
  ]
}
